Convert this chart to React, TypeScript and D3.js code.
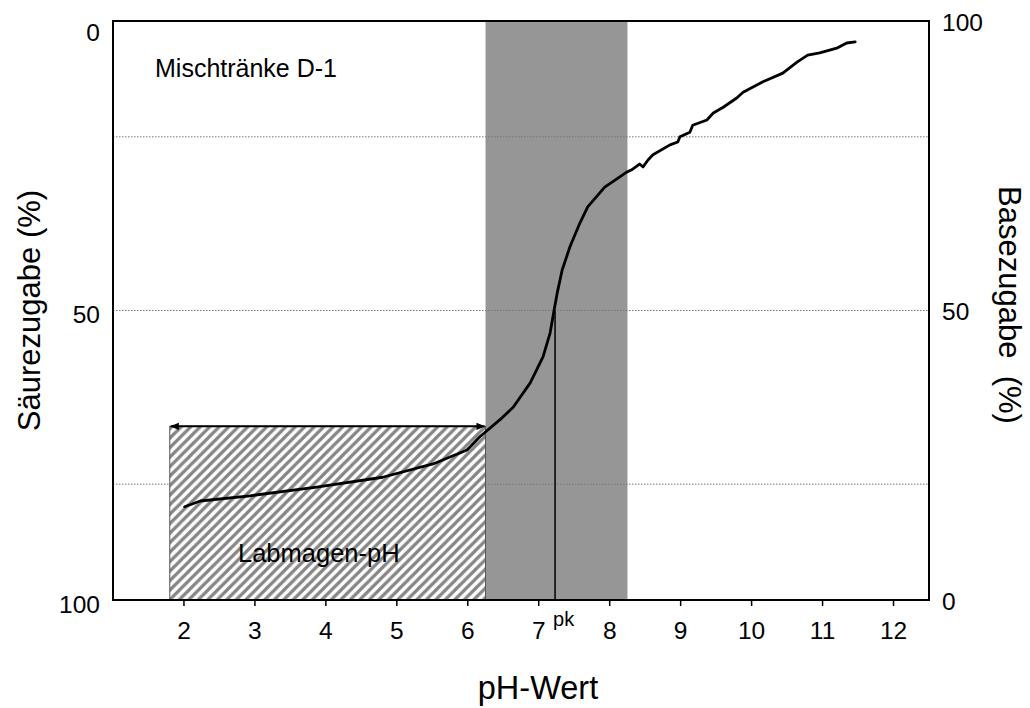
import React from "react";
import * as d3 from "d3";

// pH ticks
const xTicks = [2, 3, 4, 5, 6, 7, 8, 9, 10, 11, 12];
// left axis (Säurezugabe %) ticks, right axis (Basezugabe %) ticks
const leftTicks = [0, 50, 100];
const rightTicks = [0, 50, 100];
// dotted grid levels (Säurezugabe %)
const gridLevels = [20, 50, 80];
// titration curve: pH values and Basezugabe (%)
const curvePH = [2.01, 2.23, 2.93, 3.87, 4.8, 5.51, 5.99, 6.17, 6.45, 6.64, 6.88, 7.06, 7.16, 7.21, 7.26, 7.33, 7.44, 7.58, 7.69, 7.93, 8.24, 8.31, 8.42, 8.47, 8.54, 8.61, 8.85, 8.96, 8.99, 9.13, 9.17, 9.37, 9.46, 9.6, 9.79, 9.88, 10.16, 10.44, 10.64, 10.79, 10.96, 11.2, 11.34, 11.46];
const curveBase = [16.1, 17.1, 18.0, 19.5, 21.2, 23.5, 25.9, 28.2, 31.1, 33.3, 37.5, 42.0, 46.1, 49.6, 53.0, 57.0, 61.0, 65.1, 67.9, 71.3, 73.9, 74.3, 75.3, 74.8, 76.0, 76.9, 78.6, 79.1, 80.0, 80.8, 82.0, 82.9, 84.1, 85.1, 86.7, 87.7, 89.5, 91.0, 92.9, 94.1, 94.5, 95.3, 96.2, 96.4];
// regions
const grayBand = [6.25, 8.25];
const labmagen = [1.8, 6.25];
const labmagenTopBase = 30;
const pk = 7.23;
const pkBase = 50;

const W = 1030, H = 708;
const L = 113, R = 929, T = 21, B = 600;

export default function App() {
  const x = d3.scaleLinear().domain([1, 12.5]).range([L, R]);
  const yBase = d3.scaleLinear().domain([0, 100]).range([B, T]);
  const yAcid = d3.scaleLinear().domain([0, 100]).range([T, B]);
  const pts = curvePH.map((p, i) => [p, curveBase[i]] as [number, number]);
  const line = d3.line<[number, number]>().x(d => x(d[0])).y(d => yBase(d[1]));
  const font = "'Liberation Sans', Arial, sans-serif";
  const hx0 = x(labmagen[0]), hx1 = x(labmagen[1]), hy = yBase(labmagenTopBase);
  const P = 9.5;
  return (
    <svg width={W} height={H} style={{ display: "block", position: "absolute", left: 0, top: 0 }} fontFamily={font}>
      <defs>
        <pattern id="hatch" patternUnits="userSpaceOnUse" width={P} height={P}>
          <rect width={P} height={P} fill="#ffffff" />
          <path d={`M-1,${P + 1} L${P + 1},-1 M-2,2 L2,-2 M${P - 2},${P + 2} L${P + 2},${P - 2}`} stroke="#858585" strokeWidth={3.2} />
        </pattern>
        <marker id="arr" viewBox="0 0 10 10" refX={9} refY={5} markerWidth={9} markerHeight={9} markerUnits="userSpaceOnUse" orient="auto-start-reverse">
          <path d="M0,1 L10,5 L0,9 Z" fill="#000" />
        </marker>
      </defs>
      <rect x={0} y={0} width={W} height={H} fill="#fff" />
      {/* gray band */}
      <rect x={x(grayBand[0])} y={T} width={x(grayBand[1]) - x(grayBand[0])} height={B - T} fill="#969696" />
      {/* grid */}
      {gridLevels.map(g => (
        <line key={g} x1={L} x2={R} y1={yAcid(g)} y2={yAcid(g)} stroke="#777" strokeWidth={1} strokeDasharray="1.5,1.5" />
      ))}
      {/* hatched Labmagen area */}
      <rect x={hx0} y={hy} width={hx1 - hx0} height={B - hy} fill="url(#hatch)" stroke="#555" strokeWidth={1} />
      <line x1={hx0 + 1} x2={hx1 - 1} y1={hy} y2={hy} stroke="#000" strokeWidth={2} markerStart="url(#arr)" markerEnd="url(#arr)" />
      <text x={238} y={562} fontSize={25.5} fill="#000">Labmagen-pH</text>
      {/* pk line */}
      <line x1={x(pk)} x2={x(pk)} y1={yBase(pkBase)} y2={B} stroke="#000" strokeWidth={1.5} />
      {/* curve */}
      <path d={line(pts) || ""} fill="none" stroke="#000" strokeWidth={2.8} strokeLinejoin="round" strokeLinecap="round" />
      {/* frame */}
      <rect x={L} y={T} width={R - L} height={B - T} fill="none" stroke="#000" strokeWidth={2} />
      {/* x ticks */}
      {xTicks.map(t => (
        <g key={t}>
          <line x1={x(t)} x2={x(t)} y1={B} y2={B + 6} stroke="#000" strokeWidth={1.5} />
          <text x={x(t)} y={639} fontSize={24.5} textAnchor="middle" fill="#000">{t}</text>
        </g>
      ))}
      <text x={x(pk) - 2} y={626} fontSize={20} fill="#000">pk</text>
      {/* left ticks */}
      {leftTicks.map(t => (
        <text key={t} x={100} y={Math.max(yAcid(t) + 4, T + 11)} fontSize={24.5} textAnchor="end" dominantBaseline="central" fill="#000">{t}</text>
      ))}
      {/* right ticks */}
      {rightTicks.map(t => (
        <text key={t} x={942} y={yBase(t) + 1} fontSize={24.5} textAnchor="start" dominantBaseline="central" fill="#000">{t}</text>
      ))}
      {/* titles */}
      <text x={155} y={77} fontSize={25} fill="#000">Mischtränke D-1</text>
      <text x={538} y={699} fontSize={32.5} textAnchor="middle" fill="#000">pH-Wert</text>
      <text transform={`translate(40,${(T + B) / 2}) rotate(-90)`} fontSize={31} textAnchor="middle" fill="#000">Säurezugabe (%)</text>
      <text transform={`translate(999,305) rotate(90)`} fontSize={31} textAnchor="middle" fill="#000" style={{ whiteSpace: "pre" }}>Basezugabe  (%)</text>
    </svg>
  );
}
